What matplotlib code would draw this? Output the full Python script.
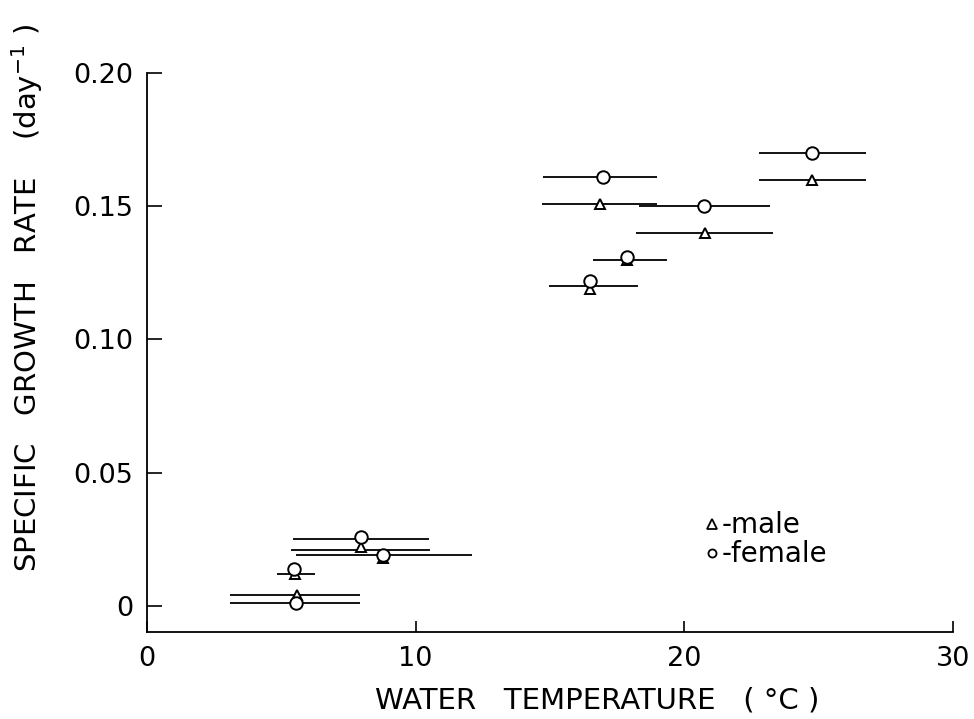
import matplotlib
matplotlib.use("Agg")
import matplotlib.pyplot as plt

# Horizontal range bars (temperature ranges)
bar_y   = [0.001, 0.004, 0.012, 0.025, 0.021, 0.019, 0.120, 0.130, 0.151, 0.150, 0.140, 0.161, 0.170, 0.160]
bar_xlo = [3.09, 3.09, 4.83, 5.43, 5.36, 5.55, 14.95, 16.60, 14.70, 18.30, 18.20, 14.75, 22.79, 22.79]
bar_xhi = [7.93, 7.93, 6.25, 10.50, 10.53, 12.08, 18.28, 19.36, 18.97, 23.20, 23.30, 18.97, 26.76, 26.76]

# Male (triangles)
male_x = [5.60, 5.50, 7.95, 8.78, 16.50, 17.85, 16.86, 20.77, 24.76]
male_y = [0.004, 0.012, 0.022, 0.018, 0.119, 0.130, 0.151, 0.140, 0.160]

# Female (circles)
female_x = [5.55, 5.47, 7.95, 8.78, 16.50, 17.85, 16.96, 20.74, 24.76]
female_y = [0.001, 0.014, 0.026, 0.019, 0.122, 0.131, 0.161, 0.150, 0.170]

x_ticks = [0, 10, 20, 30]
x_ticklabels = ["0", "10", "20", "30"]
y_ticks = [0, 0.05, 0.10, 0.15, 0.20]
y_ticklabels = ["0", "0.05", "0.10", "0.15", "0.20"]

legend_labels = ["-male", "-female"]

plt.rcParams['font.family'] = ['DejaVu Sans']

fig = plt.figure(figsize=(9.74, 7.19), dpi=100)
ax = fig.add_axes([147/974, 1 - 632/719, (953 - 147)/974, (632 - 73)/719])

ax.hlines(bar_y, bar_xlo, bar_xhi, colors='black', linewidth=1.3)
ax.plot(male_x, male_y, linestyle='none', marker='^', markersize=7.5,
        markerfacecolor='white', markeredgecolor='black', markeredgewidth=1.4, zorder=3)
ax.plot(female_x, female_y, linestyle='none', marker='o', markersize=9,
        markerfacecolor='white', markeredgecolor='black', markeredgewidth=1.4, zorder=3)

ax.set_xlim(0, 30)
ax.set_ylim(-0.0098, 0.20)
ax.spines['top'].set_visible(False)
ax.spines['right'].set_visible(False)
ax.spines['left'].set_linewidth(1.3)
ax.spines['bottom'].set_linewidth(1.3)

ax.set_xticks(x_ticks)
ax.set_xticklabels(x_ticklabels)
ax.set_yticks(y_ticks)
ax.set_yticklabels(y_ticklabels)
ax.tick_params(direction='in', width=1.2, labelsize=19.5)
ax.tick_params(axis='x', length=8, pad=10)
ax.tick_params(axis='y', length=10.5, pad=10)

ax.set_xlabel("WATER   TEMPERATURE   ( °C )", fontsize=21, va='baseline')
ax.xaxis.set_label_coords(0.558, -0.1377)
ax.set_ylabel("SPECIFIC   GROWTH   RATE    (day$^{-1}$ )", fontsize=21)
ax.yaxis.set_label_coords(-0.1266, 0.597)

# Legend drawn as marker + text
ax.plot([0.701], [0.193], transform=ax.transAxes, linestyle='none', marker='^', markersize=6.5,
        markerfacecolor='white', markeredgecolor='black', markeredgewidth=1.3, clip_on=False)
ax.plot([0.701], [0.1413], transform=ax.transAxes, linestyle='none', marker='o', markersize=5.8,
        markerfacecolor='white', markeredgecolor='black', markeredgewidth=1.3, clip_on=False)
ax.text(0.713, 0.177, legend_labels[0], transform=ax.transAxes, fontsize=20, va='baseline', ha='left')
ax.text(0.713, 0.125, legend_labels[1], transform=ax.transAxes, fontsize=20, va='baseline', ha='left')

fig.savefig("out.png", dpi=100)
